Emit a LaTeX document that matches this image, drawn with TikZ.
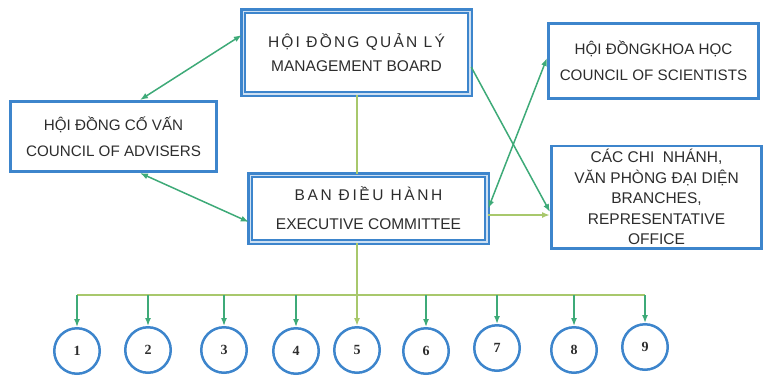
\documentclass[tikz,border=0pt]{standalone}
\usepackage{fontspec}
\setmainfont{Liberation Sans}
\newfontfamily\numfont{Liberation Serif}
\usetikzlibrary{arrows.meta}

\definecolor{boxblue}{RGB}{61,133,204}
\definecolor{arrgreen}{RGB}{62,170,120}
\definecolor{linegreen}{RGB}{168,200,108}
\definecolor{txtgray}{RGB}{45,45,45}

\begin{document}
\begin{tikzpicture}[x=1pt,y=1pt,>={Latex[length=8pt,width=6pt]}]
      \tikzstyle{every node}+=[inner sep=0pt, text=txtgray, align=center]
      \tikzstyle{board}=[draw=boxblue, line width=2.5pt, double=boxblue!25, double distance=1.1pt]
      \tikzstyle{panel}=[draw=boxblue, line width=2.6pt]
      \tikzstyle{unit}=[circle, draw=boxblue, line width=2.5pt, minimum size=45.5pt, font=\numfont\bfseries\fontsize{14}{14}\selectfont]
      \tikzstyle{arr}=[draw=arrgreen, fill=arrgreen, line width=1.5pt]
      \tikzstyle{feed}=[draw=linegreen, fill=linegreen, line width=1.6pt]
      \useasboundingbox (0,0) rectangle (767,-380);
      \node [board, minimum width=226.9pt, minimum height=82.9pt, font=\fontsize{15.5}{24}\selectfont] (mb) at (356.5,-52.5)
        {{\addfontfeature{LetterSpace=14}HỘI ĐỒNG QUẢN LÝ}\\MANAGEMENT BOARD};
      \node [board, minimum width=236.9pt, minimum height=66.9pt, font=\fontsize{15.5}{29}\selectfont] (ec) at (368.5,-208.5)
        {{\addfontfeature{LetterSpace=17}BAN ĐIỀU HÀNH}\\EXECUTIVE COMMITTEE};
      \node [panel, minimum width=206.4pt, minimum height=70.4pt, font=\fontsize{15.2}{26}\selectfont] (adv) at (113.5,-136.5)
        {HỘI ĐỒNG CỐ VẤN\\COUNCIL OF ADVISERS};
      \node [panel, minimum width=210.4pt, minimum height=75.4pt, font=\fontsize{15.2}{26}\selectfont] (sci) at (653.5,-61)
        {HỘI ĐỒNGKHOA HỌC\\COUNCIL OF SCIENTISTS};
      \node [panel, minimum width=210.4pt, minimum height=102.4pt, font=\fontsize{15.5}{20.5}\selectfont] (br) at (656.5,-197)
        {CÁC CHI \ NHÁNH,\\VĂN PHÒNG ĐẠI DIỆN\\BRANCHES,\\REPRESENTATIVE\\OFFICE};
      \node [unit] (u1) at (77,-351) {1};
      \node [unit] (u2) at (148,-350) {2};
      \node [unit] (u3) at (224,-350) {3};
      \node [unit] (u4) at (296,-351) {4};
      \node [unit] (u5) at (357,-350) {5};
      \node [unit] (u6) at (426,-351) {6};
      \node [unit] (u7) at (497,-348) {7};
      \node [unit] (u8) at (574,-350) {8};
      \node [unit] (u9) at (645,-347) {9};
      \draw [arr, <->] ([xshift=26.5pt]adv.north) -- ([yshift=17.5pt]mb.west);
      \draw [arr, <->] ([xshift=26.5pt]adv.south) -- ([yshift=-13.5pt]ec.west);
      \draw [arr, ->] ([yshift=-14.5pt]mb.east) -- ([yshift=-15pt]br.west);
      \draw [arr, <->] (ec.east) -- ([yshift=3pt]sci.west);
      \coordinate (ee) at ([yshift=-6.5pt]ec.east);
      \draw [feed, ->] (ee) -- (ee -| br.west);
      \draw [feed] (u5 |- mb.south) -- (u5 |- ec.north);
      \coordinate (bus) at (0,-295);
      \draw [feed] (u1 |- bus) -- (u9 |- bus);
      \draw [feed, ->] (u5 |- ec.south) -- (u5.north);
      \foreach \i in {1,2,3,4,6,7,8,9}
        \draw [arr, ->] (u\i |- bus) -- (u\i.north);
    \end{tikzpicture}
\end{document}
